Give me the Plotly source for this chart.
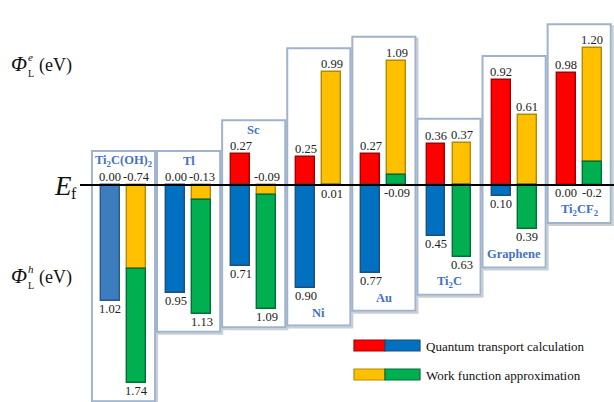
import plotly.graph_objects as go

# Schottky barrier heights (eV) for each electrode contact
materials = ["Ti<sub>2</sub>C(OH)<sub>2</sub>", "Tl", "Sc", "Ni", "Au",
             "Ti<sub>2</sub>C", "Graphene", "Ti<sub>2</sub>CF<sub>2</sub>"]
name_side = ["top", "top", "top", "bottom", "bottom", "bottom", "bottom", "bottom"]

# quantum transport calculation: electron / hole barrier
qt_e = ["0.00", "0.00", "0.27", "0.25", "0.27", "0.36", "0.92", "0.98"]
qt_h = ["1.02", "0.95", "0.71", "0.90", "0.77", "0.45", "0.10", "0.00"]
# work function approximation: electron / hole barrier
wf_e = ["-0.74", "-0.13", "-0.09", "0.99", "1.09", "0.37", "0.61", "1.20"]
wf_h = ["1.74", "1.13", "1.09", "0.01", "-0.09", "0.63", "0.39", "-0.2"]

legend_labels = ["Quantum transport calculation", "Work function approximation"]

# ---- geometry -------------------------------------------------------------
W, H = 614, 402
X0_PX, DX_PX = 123.5, 65.1          # first group centre, group spacing (px)
EF_PX, PX_PER_EV = 185, 114          # Fermi level row, vertical scale
BAR_W = 0.29
BAR_OFF = 0.2
BOX_HALF = 0.485

x_range = [-X0_PX / DX_PX, (W - X0_PX) / DX_PX]
y_range = [-(H - EF_PX) / PX_PER_EV, EF_PX / PX_PER_EV]


def ev(px):
    return px / PX_PER_EV


def px_x(px):
    return px / W


def px_y(px):
    return 1 - px / H


RED, BLUE, BLUE_ALT, YELLOW, GREEN = "#ff0000", "#0070c0", "#3b7dbf", "#ffc000", "#00b050"
EDGE = {RED: "#a50000", BLUE: "#1f4e79", BLUE_ALT: "#2a5a8a", YELLOW: "#b58900", GREEN: "#00703a"}
SERIF = "Liberation Serif"

segments = {"red": [], "blue": [], "yellow": [], "green": []}
columns = []
for i in range(len(materials)):
    ee, eh = float(qt_e[i]), float(qt_h[i])
    we, wh = float(wf_e[i]), float(wf_h[i])
    xl, xr = i - BAR_OFF, i + BAR_OFF
    # transport bars: electron barrier above Ef, hole barrier below
    segments["red"].append((xl, 0.0, ee, RED))
    segments["blue"].append((xl, -eh, 0.0, BLUE_ALT if i == 0 else BLUE))
    # work-function bars: CB edge at +e, VB edge at -h
    if we < 0:
        yel, grn = (we, 0.0), (-wh, we)
    elif wh < 0:
        grn, yel = (0.0, -wh), (-wh, we)
    else:
        yel, grn = (0.0, we), (-wh, 0.0)
    segments["yellow"].append((xr, yel[0], yel[1], YELLOW))
    segments["green"].append((xr, grn[0], grn[1], GREEN))
    columns.append({
        "l_top": max(ee, 0.0), "l_bot": min(-eh, 0.0),
        "r_top": max(yel[1], grn[1], 0.0), "r_bot": min(yel[0], grn[0], 0.0),
    })

fig = go.Figure()
for key in ["red", "blue", "yellow", "green"]:
    segs = [s for s in segments[key] if s[2] - s[1] > 1e-9]
    fig.add_trace(go.Bar(
        x=[s[0] for s in segs],
        base=[s[1] for s in segs],
        y=[s[2] - s[1] for s in segs],
        width=BAR_W,
        marker=dict(color=[s[3] for s in segs],
                    line=dict(color=[EDGE[s[3]] for s in segs], width=1.4)),
        showlegend=False, hoverinfo="skip",
    ))

shapes = []
annotations = []
val_font = dict(family=SERIF, size=12.5, color="#222222")
name_font = dict(family=SERIF, size=12.5, color="#4472c4")

for i, col in enumerate(columns):
    top = max(col["l_top"], col["r_top"])
    bot = min(col["l_bot"], col["r_bot"])
    box_top = top + ev(34 if name_side[i] == "top" else 24)
    box_bot = bot - ev(38 if name_side[i] == "bottom" else 18)
    # soft shadow then outline
    shapes.append(dict(type="rect", xref="x", yref="y", layer="below",
                       x0=i - BOX_HALF + 2 / DX_PX, x1=i + BOX_HALF + 2 / DX_PX,
                       y0=box_bot - ev(2), y1=box_top - ev(2),
                       line=dict(color="#c9ced4", width=2), fillcolor="rgba(0,0,0,0)"))
    shapes.append(dict(type="rect", xref="x", yref="y", layer="below",
                       x0=i - BOX_HALF, x1=i + BOX_HALF, y0=box_bot, y1=box_top,
                       line=dict(color="#9fb4cc", width=2), fillcolor="white"))
    # value labels
    annotations += [
        dict(x=i - BAR_OFF, y=col["l_top"], text=qt_e[i], yanchor="bottom", yshift=-1),
        dict(x=i + BAR_OFF, y=col["r_top"], text=wf_e[i], yanchor="bottom", yshift=-1),
        dict(x=i - BAR_OFF, y=col["l_bot"], text=qt_h[i], yanchor="top", yshift=1),
        dict(x=i + BAR_OFF, y=col["r_bot"], text=wf_h[i], yanchor="top", yshift=1),
    ]
    for a in annotations[-4:]:
        a.update(xref="x", yref="y", showarrow=False, font=val_font, xanchor="center")
    ny = top + ev(24) if name_side[i] == "top" else bot - ev(25)
    annotations.append(dict(x=i, y=ny, xref="x", yref="y", showarrow=False,
                            text="<b>" + materials[i] + "</b>", font=name_font,
                            xanchor="center", yanchor="middle"))

# Fermi level, drawn over the panels
shapes.append(dict(type="line", xref="x", yref="y", layer="above",
                   x0=(80 - X0_PX) / DX_PX, x1=x_range[1], y0=0, y1=0,
                   line=dict(color="black", width=2)))


def paper_text(x, y, text, size, xanchor="left", italic=False):
    annotations.append(dict(xref="paper", yref="paper", x=px_x(x), y=px_y(y),
                            text=("<i>%s</i>" % text) if italic else text,
                            showarrow=False, xanchor=xanchor, yanchor="middle",
                            font=dict(family=SERIF, size=size, color="#111111")))


# axis-side labels
for y0, sup in [(64, "e"), (276, "h")]:
    paper_text(9, y0, "Φ", 21, italic=True)
    paper_text(26, y0 - 7, sup, 11, italic=True)
    paper_text(26, y0 + 9, "L", 10)
    paper_text(37, y0 + 1, "(eV)", 18)
paper_text(52, EF_PX + 1, "E", 27, italic=True)
paper_text(69, EF_PX + 8, "f", 16)

# legend swatches
for row, (c1, c2) in enumerate([(RED, BLUE), (YELLOW, GREEN)]):
    yt = 340 + row * 29
    for x0, x1, c in [(354, 385, c1), (385, 420, c2)]:
        shapes.append(dict(type="rect", xref="paper", yref="paper",
                           x0=px_x(x0), x1=px_x(x1), y0=px_y(yt + 11), y1=px_y(yt),
                           line=dict(color=EDGE[c], width=1.2), fillcolor=c))
    paper_text(424, yt + 6, legend_labels[row], 13)

fig.update_layout(
    width=W, height=H, margin=dict(l=0, r=0, t=0, b=0),
    paper_bgcolor="white", plot_bgcolor="white",
    barmode="overlay", bargap=0,
    xaxis=dict(range=x_range, visible=False, fixedrange=True),
    yaxis=dict(range=y_range, visible=False, fixedrange=True),
    shapes=shapes, annotations=annotations, showlegend=False,
)

fig.write_html("out.html")
